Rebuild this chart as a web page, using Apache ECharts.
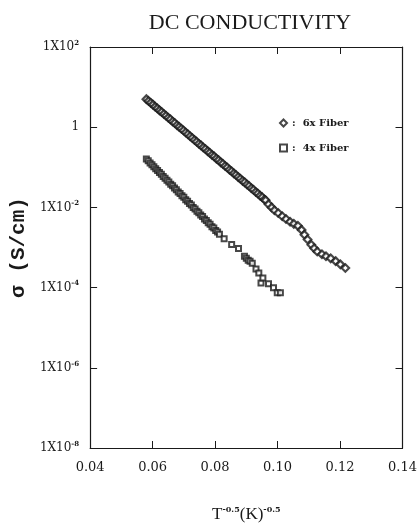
<!DOCTYPE html>
<html><head><meta charset="utf-8">
<script src="https://cdn.jsdelivr.net/npm/echarts@6/dist/echarts.min.js"></script>
<style>html,body{margin:0;padding:0;background:#fff}#c{width:420px;height:528px}</style>
</head><body><div id="c"></div>
<script>
const titleText = 'DC CONDUCTIVITY';
const seriesNames = ['6x Fiber', '4x Fiber'];
const xTickValues = [0.04, 0.06, 0.08, 0.10, 0.12, 0.14];
const yTickExponents = [-8, -6, -4, -2, 0, 2];

const fiber6x_T = [0.0580,0.0587,0.0594,0.0601,0.0608,0.0615,0.0622,0.0629,0.0636,0.0643,0.0650,0.0657,0.0664,0.0671,0.0678,0.0685,0.0692,0.0699,0.0706,0.0713,0.0720,0.0727,0.0734,0.0741,0.0748,0.0755,0.0762,0.0769,0.0776,0.0783,0.0790,0.0797,0.0804,0.0811,0.0818,0.0825,0.0832,0.0839,0.0846,0.0853,0.0860,0.0867,0.0874,0.0881,0.0888,0.0895,0.0902,0.0909,0.0916,0.0923,0.0930,0.0937,0.0944,0.0951,0.0958,
  0.0962,0.0971,0.0981,0.0990,0.1002,0.1015,0.1027,0.1040,0.1052,0.1065,0.1077,0.1086,0.1096,0.1108,0.1117,0.1127,0.1142,0.1155,0.1170,0.1186,0.1201,0.1217];
const fiber6x_sigma = [5.01,4.52,4.05,3.66,3.25,2.95,2.63,2.40,2.13,1.93,1.72,1.57,1.39,1.27,1.12,1.02,0.912,0.826,0.735,0.668,0.594,0.540,0.480,0.436,0.388,0.352,0.313,0.286,0.253,0.231,0.204,0.187,0.165,0.151,0.133,0.122,0.108,0.0985,0.0872,0.0795,0.0705,0.0645,0.0570,0.0520,0.0460,0.0422,0.0372,0.0341,0.0300,0.0276,0.0242,0.0223,0.0196,0.0180,0.0158,
  0.0151,0.0120,0.0100,0.00851,0.00724,0.00603,0.00513,0.00437,0.00389,0.00347,0.00275,0.00209,0.00158,0.00117,0.000955,0.000794,0.000676,0.000603,0.000537,0.000457,0.000380,0.000309];

const fiber4x_T = [0.0580,0.0586,0.0592,0.0598,0.0604,0.0610,0.0616,0.0622,0.0628,0.0634,0.0640,0.0646,0.0652,0.0658,0.0664,0.0670,0.0676,0.0682,0.0688,0.0694,0.0700,0.0706,0.0712,0.0718,0.0724,0.0730,0.0736,0.0742,0.0748,0.0754,0.0760,0.0766,0.0772,0.0778,0.0784,0.0790,0.0796,0.0802,0.0808,0.0814,
  0.0829,0.0853,0.0875,0.0894,0.0900,0.0906,0.0912,0.0919,0.0931,0.0940,0.0947,0.0953,0.0971,0.0987,0.0999,0.1009];
const fiber4x_sigma = [0.161,0.145,0.128,0.116,0.103,0.0921,0.0831,0.0738,0.0667,0.0590,0.0535,0.0472,0.0430,0.0379,0.0345,0.0303,0.0276,0.0243,0.0222,0.0195,0.0178,0.0156,0.0142,0.0125,0.0114,0.0100,0.00915,0.00805,0.00735,0.00645,0.00590,0.00515,0.00472,0.00414,0.00380,0.00331,0.00305,0.00265,0.00244,0.00213,
  0.00166,0.00119,0.000945,0.000601,0.000537,0.000480,0.000454,0.000405,0.000289,0.000231,0.000131,0.000174,0.000124,0.0000989,0.0000746,0.0000746];

const ink = '#1a1a1a';
const serif = 'DejaVu Serif';
function pairs(xs, ys){ return xs.map((x,i)=>[x, ys[i]]); }
function yLabel(v){
  const e = Math.round(Math.log10(v));
  if (!yTickExponents.includes(e)) return '';
  if (e === 0) return '{b|1}';
  return '{b|1X10}{s|' + e + '}';
}
const chart = echarts.init(document.getElementById('c'));
const axisLineStyle = {lineStyle:{color:ink,width:1.2}};
chart.setOption({
  animation:false,
  backgroundColor:'#fff',
  title:{text:titleText,left:245,top:7,textAlign:'center',
    textStyle:{fontFamily:'Liberation Serif',fontWeight:'normal',fontSize:22,color:ink}},
  legend:{orient:'vertical',left:274,top:113,itemWidth:7,itemHeight:7,itemGap:15,
    formatter:n=>':  '+n,
    textStyle:{fontFamily:serif,fontSize:10,fontWeight:'bold',color:ink},
    data:[{name:seriesNames[0],icon:'diamond'},{name:seriesNames[1],icon:'rect'}]},
  grid:{left:84,right:14,top:47,bottom:73},
  xAxis:[{type:'value',min:0.04,max:0.14,interval:0.02,position:'bottom',
      axisLine:axisLineStyle,axisTick:{inside:true,length:7,lineStyle:{color:ink}},
      splitLine:{show:false},
      axisLabel:{margin:13,fontFamily:serif,fontSize:13,color:ink,formatter:v=>v.toFixed(2)},
      name:'{b|T}{s|-0.5}{b|(K)}{s|-0.5}',nameLocation:'middle',nameGap:58,
      nameTextStyle:{rich:{b:{fontFamily:'Liberation Serif',fontSize:17,color:ink},
        s:{fontFamily:serif,fontSize:8,fontWeight:'bold',color:ink,padding:[0,0,9,0]}}}},
    {type:'value',min:0.04,max:0.14,interval:0.02,position:'top',
      axisLine:axisLineStyle,axisTick:{inside:true,length:7,lineStyle:{color:ink}},
      axisLabel:{show:false},splitLine:{show:false}}],
  yAxis:[{type:'log',logBase:100,min:1e-8,max:1e2,position:'left',
      axisLine:axisLineStyle,axisTick:{inside:true,length:7,lineStyle:{color:ink}},
      minorTick:{show:false},splitLine:{show:false},
      axisLabel:{margin:11,formatter:yLabel,
        rich:{b:{fontFamily:serif,fontSize:12,color:ink},
          s:{fontFamily:serif,fontSize:7,fontWeight:'bold',color:ink,padding:[0,0,8,0]}}},
      name:'σ (S/cm)',nameLocation:'middle',nameGap:54,nameRotate:90,
      nameTextStyle:{fontFamily:'Liberation Mono',fontWeight:'bold',fontSize:21,color:ink}},
    {type:'log',logBase:100,min:1e-8,max:1e2,position:'right',
      axisLine:axisLineStyle,axisTick:{inside:true,length:7,lineStyle:{color:ink}},
      axisLabel:{show:false},splitLine:{show:false}}],
  series:[
    {name:seriesNames[0],type:'scatter',symbol:'diamond',symbolSize:7.5,
      itemStyle:{color:'#fff',borderColor:ink,borderWidth:2.2},
      data:pairs(fiber6x_T,fiber6x_sigma)},
    {name:seriesNames[1],type:'scatter',symbol:'rect',symbolSize:5,
      itemStyle:{color:'#fff',borderColor:ink,borderWidth:2},
      data:pairs(fiber4x_T,fiber4x_sigma)}
  ]
});
</script></body></html>
